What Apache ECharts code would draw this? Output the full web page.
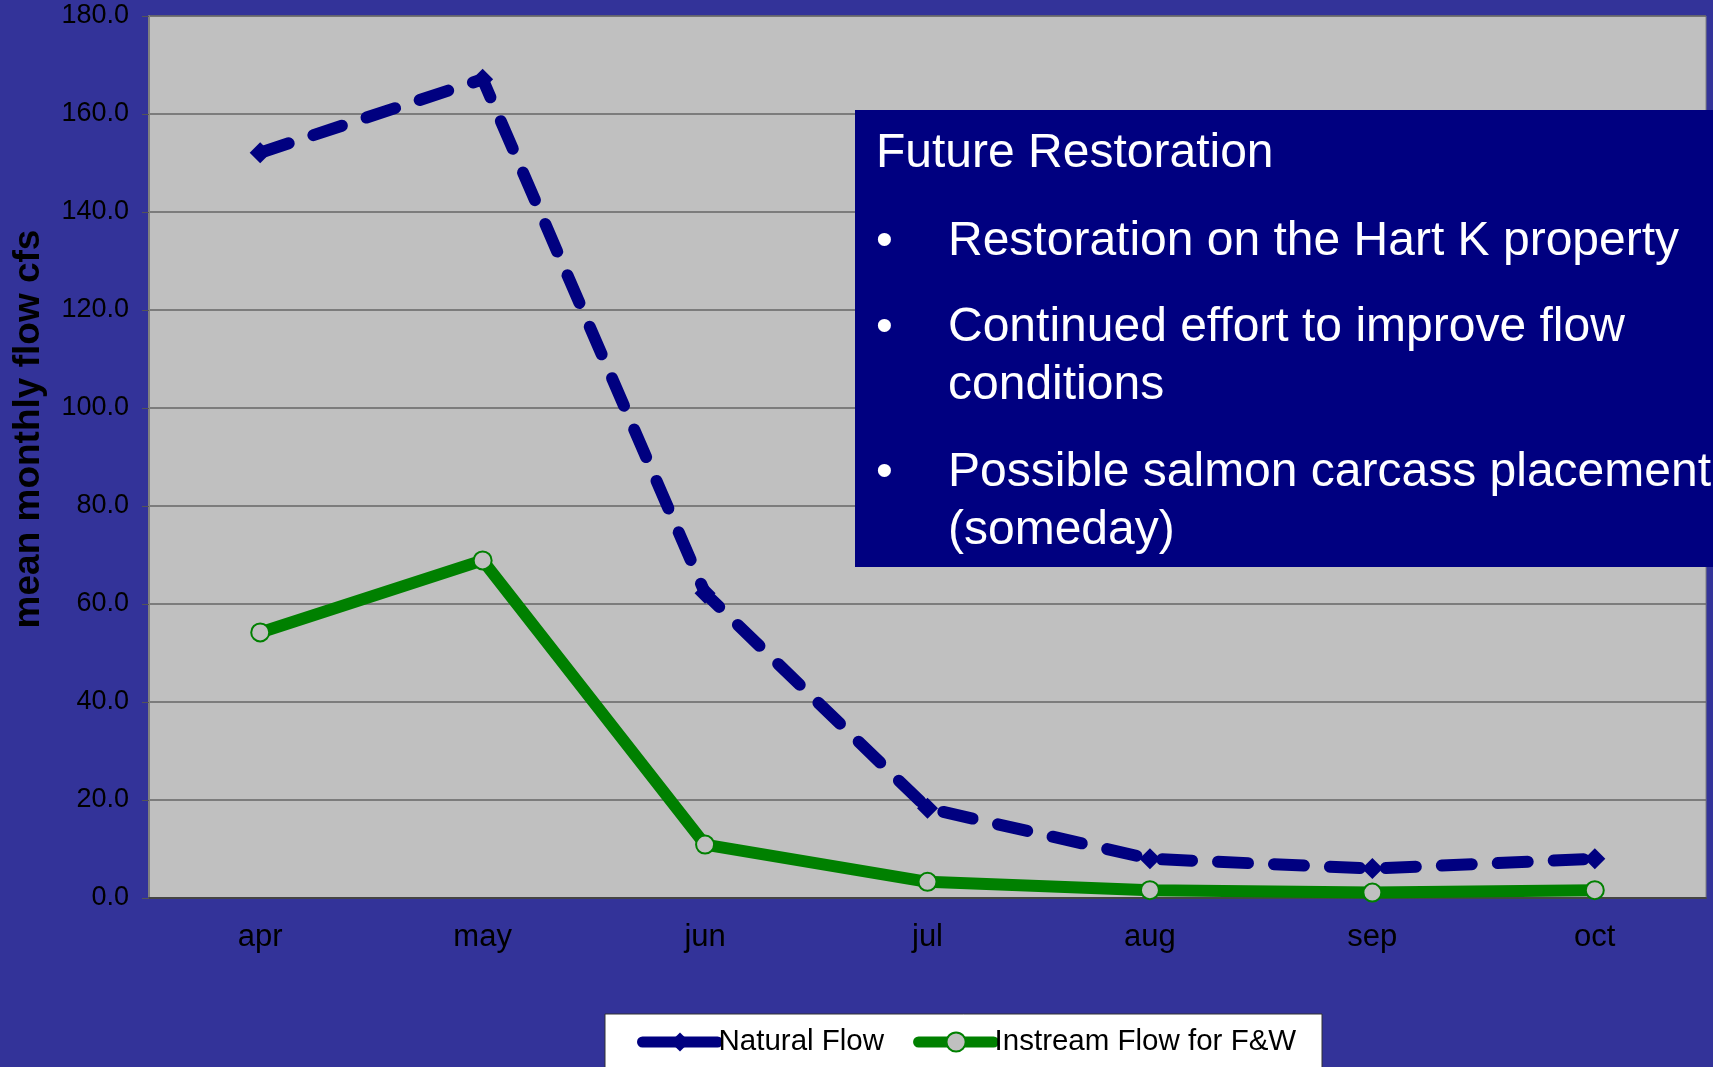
<!DOCTYPE html>
<html>
<head>
<meta charset="utf-8">
<script src="https://cdn.jsdelivr.net/npm/echarts@6/dist/echarts.min.js"></script>
<style>
  html, body { margin: 0; padding: 0; background: #333399; }
  #chart { width: 1713px; height: 1067px; }
</style>
</head>
<body>
<div id="chart"></div>
<script>
// datos
let meses = ['apr', 'may', 'jun', 'jul', 'aug', 'sep', 'oct'];
let natural_flow = [152.1, 167.1, 62.2, 18.3, 8.0, 6.0, 8.0];
let instream_flow = [54.2, 68.9, 10.9, 3.3, 1.6, 1.1, 1.6];
let y_ticks = { min: 0, max: 180, interval: 20 };

let caja_titulo = 'Future Restoration';
let caja_bullets = [
  ['Restoration on the Hart K property'],
  ['Continued effort to improve flow', 'conditions'],
  ['Possible salmon carcass placement', '(someday)']
];

let fuente = '"Liberation Sans", Arial, sans-serif';

function texto_caja(){
  let els = [];
  let f = '48px ' + fuente;
  els.push({ type: 'rect', z: 100, shape: { x: 855, y: 110, width: 860, height: 457 }, style: { fill: '#000080' } });
  els.push({ type: 'text', z: 101, x: 876, y: 154, style: { text: caja_titulo, fill: '#fff', font: f, textVerticalAlign: 'middle' } });
  let ys = [[242], [328, 386], [473, 531]];
  caja_bullets.forEach((b, i) => {
    els.push({ type: 'text', z: 101, x: 876, y: ys[i][0], style: { text: '•', fill: '#fff', font: f, textVerticalAlign: 'middle' } });
    b.forEach((linea, j) => {
      els.push({ type: 'text', z: 101, x: 948, y: ys[i][j], style: { text: linea, fill: '#fff', font: f, textVerticalAlign: 'middle' } });
    });
  });
  return els;
}

let grafica = echarts.init(document.getElementById('chart'));
let options = {
  backgroundColor: '#333399',
  animation: false,
  grid: {
    left: 149, right: 7, top: 16, bottom: 169,
    show: true, backgroundColor: '#C0C0C0', borderColor: '#808080', borderWidth: 1
  },
  legend: {
    left: 632, top: 1022,
    itemWidth: 75, itemHeight: 24, itemGap: 29,
    textStyle: { color: '#000', fontSize: 29.5, fontFamily: fuente, padding: [0, 0, 0, -4] },
    data: [
      { name: 'Natural Flow', lineStyle: { width: 11, type: 'solid', cap: 'round' } },
      { name: 'Instream Flow for F&W', lineStyle: { width: 11, type: 'solid', cap: 'round' } }
    ]
  },
  xAxis: {
    type: 'category',
    data: meses,
    boundaryGap: true,
    axisLine: { lineStyle: { color: '#444', width: 2 } },
    axisTick: { length: 10, lineStyle: { color: '#000' } },
    axisLabel: { color: '#000', fontSize: 31, fontFamily: fuente, margin: 24 }
  },
  yAxis: {
    type: 'value',
    min: y_ticks.min, max: y_ticks.max, interval: y_ticks.interval,
    name: 'mean monthly flow cfs',
    nameLocation: 'middle',
    nameGap: 102,
    nameTextStyle: { color: '#000', fontSize: 37, fontWeight: 'bold', fontFamily: fuente, padding: [0, 0, 0, 56] },
    axisLine: { show: true, lineStyle: { color: '#808080', width: 2 } },
    axisTick: { show: true, length: 7, lineStyle: { color: '#555' } },
    axisLabel: { color: '#000', fontSize: 27, fontFamily: fuente, margin: 20, formatter: v => v.toFixed(1) },
    splitLine: { lineStyle: { color: '#666', width: 1.5 } }
  },
  series: [
    {
      name: 'Natural Flow',
      type: 'line',
      data: natural_flow,
      symbol: 'diamond',
      symbolSize: 21,
      itemStyle: { color: '#000080' },
      lineStyle: { color: '#000080', width: 12, type: [30, 26], cap: 'round' },
      z: 3
    },
    {
      name: 'Instream Flow for F&W',
      type: 'line',
      data: instream_flow,
      symbol: 'circle',
      symbolSize: 18,
      itemStyle: { color: '#C0C0C0', borderColor: '#008000', borderWidth: 2 },
      lineStyle: { color: '#008000', width: 12 },
      z: 2
    }
  ],
  graphic: [
    { type: 'rect', z: 1, shape: { x: 605, y: 1014, width: 717, height: 60 }, style: { fill: '#fff', stroke: '#333', lineWidth: 1 } }
  ].concat(texto_caja())
};
grafica.setOption(options);
</script>
</body>
</html>
